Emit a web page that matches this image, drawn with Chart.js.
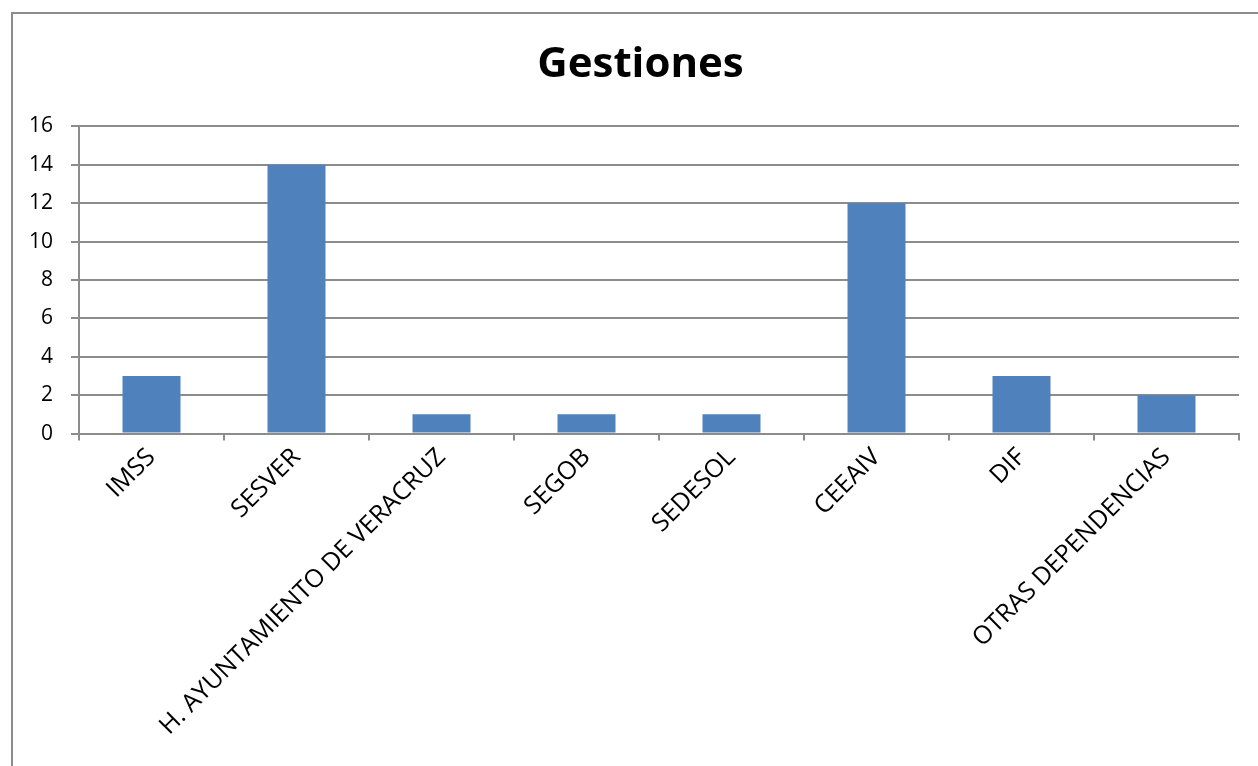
<!DOCTYPE html>
<html>
<head>
<meta charset="utf-8">
<script src="https://cdn.jsdelivr.net/npm/chart.js@4/dist/chart.umd.min.js"></script>
<style>
html,body{margin:0;padding:0;background:#fff;overflow:hidden;}
#frame{position:absolute;left:11px;top:12px;width:1400px;height:900px;border:2px solid #8c8c8c;box-sizing:border-box;}
#wrap{position:absolute;left:0;top:0;width:1258px;height:766px;}
</style>
</head>
<body>
<div id="frame"></div>
<div id="wrap"><canvas id="c"></canvas></div>
<script>
const categories = ["IMSS","SESVER","H. AYUNTAMIENTO DE VERACRUZ","SEGOB","SEDESOL","CEEAIV","DIF","OTRAS DEPENDENCIAS"];
const gestiones = [3,14,1,1,1,12,3,2];
const yTicks = [0,2,4,6,8,10,12,14,16];

const FONT = "'Open Sans', sans-serif";
const titleShift = {
  id: 'titleShift',
  afterLayout(chart) {
    const t = chart.titleBlock;
    if (t) { t.left += 10; t.right += 10; }
  }
};
new Chart(document.getElementById('c'), {
  type: 'bar',
  data: {
    labels: categories,
    datasets: [{
      label: 'Gestiones',
      data: gestiones,
      backgroundColor: '#4f81bd',
      borderWidth: 0,
      categoryPercentage: 1.0,
      barPercentage: 0.4
    }]
  },
  plugins: [titleShift],
  options: {
    responsive: true,
    maintainAspectRatio: false,
    animation: false,
    layout: { padding: { left: 22, right: 19, top: 40, bottom: 23 } },
    plugins: {
      legend: { display: false },
      tooltip: { enabled: false },
      title: {
        display: true,
        text: 'Gestiones',
        color: '#000',
        font: { family: FONT, size: 42, weight: 'bold' },
        padding: { top: 0, bottom: 36 }
      }
    },
    scales: {
      x: {
        offset: true,
        grid: { display: true, drawOnChartArea: false, offset: true, color: '#8c8c8c', lineWidth: 2, tickLength: 7 },
        border: { display: true, color: '#8c8c8c', width: 2 },
        ticks: {
          color: '#000',
          font: { family: FONT, size: 25 },
          minRotation: 45, maxRotation: 45,
          autoSkip: false,
          padding: 2
        }
      },
      y: {
        min: 0, max: 16,
        afterBuildTicks: s => { s.ticks = yTicks.map(v => ({ value: v })); },
        afterFit: s => { s.width = 57; },
        grid: { color: '#8c8c8c', lineWidth: 2, tickLength: 8 },
        border: { display: true, color: '#8c8c8c', width: 2 },
        ticks: {
          color: '#000',
          font: { family: FONT, size: 21 },
          padding: 18
        }
      }
    }
  }
});
</script>
</body>
</html>
